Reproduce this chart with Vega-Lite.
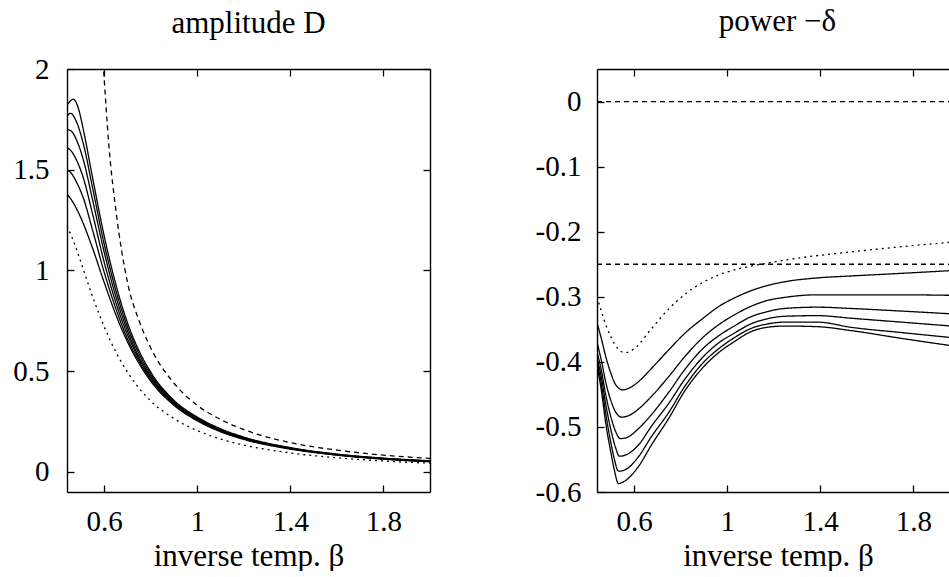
{
  "$schema": "https://vega.github.io/schema/vega-lite/v6.json",
  "padding": {"left": 0, "top": 6, "right": 0, "bottom": 0},
  "background": "white",
  "config": {
    "view": {"stroke": null},
    "font": "Liberation Serif",
    "axis": {"domainColor": "black", "tickColor": "black", "labelColor": "black", "titleColor": "black", "labelFont": "Liberation Serif", "titleFont": "Liberation Serif", "labelFontSize": 29, "titleFontSize": 31, "titleFontWeight": "normal", "grid": false, "tickSize": -7, "domainWidth": 1.4, "tickWidth": 1.3, "labelExpr": "'' + datum.value"},
    "title": {"font": "Liberation Serif", "fontSize": 31, "fontWeight": "normal", "color": "black"},
    "concat": {"spacing": 96}
  },
  "datasets": {
    "amp": [
      {"series": "c1", "style": "solid", "beta": 0.44, "value": 1.82},
      {"series": "c1", "style": "solid", "beta": 0.468, "value": 1.85},
      {"series": "c1", "style": "solid", "beta": 0.49, "value": 1.8},
      {"series": "c1", "style": "solid", "beta": 0.51, "value": 1.7},
      {"series": "c1", "style": "solid", "beta": 0.55, "value": 1.46},
      {"series": "c1", "style": "solid", "beta": 0.6, "value": 1.17},
      {"series": "c1", "style": "solid", "beta": 0.65, "value": 0.93},
      {"series": "c1", "style": "solid", "beta": 0.7, "value": 0.74},
      {"series": "c1", "style": "solid", "beta": 0.75, "value": 0.6},
      {"series": "c1", "style": "solid", "beta": 0.8, "value": 0.495},
      {"series": "c1", "style": "solid", "beta": 0.9, "value": 0.355},
      {"series": "c1", "style": "solid", "beta": 1.0, "value": 0.272},
      {"series": "c1", "style": "solid", "beta": 1.1, "value": 0.214},
      {"series": "c1", "style": "solid", "beta": 1.2, "value": 0.173},
      {"series": "c1", "style": "solid", "beta": 1.4, "value": 0.12},
      {"series": "c1", "style": "solid", "beta": 1.6, "value": 0.088},
      {"series": "c1", "style": "solid", "beta": 1.8, "value": 0.068},
      {"series": "c1", "style": "solid", "beta": 2.0, "value": 0.055},

      {"series": "c2", "style": "solid", "beta": 0.44, "value": 1.765},
      {"series": "c2", "style": "solid", "beta": 0.455, "value": 1.78},
      {"series": "c2", "style": "solid", "beta": 0.48, "value": 1.74},
      {"series": "c2", "style": "solid", "beta": 0.51, "value": 1.63},
      {"series": "c2", "style": "solid", "beta": 0.55, "value": 1.41},
      {"series": "c2", "style": "solid", "beta": 0.6, "value": 1.13},
      {"series": "c2", "style": "solid", "beta": 0.65, "value": 0.9},
      {"series": "c2", "style": "solid", "beta": 0.7, "value": 0.72},
      {"series": "c2", "style": "solid", "beta": 0.75, "value": 0.585},
      {"series": "c2", "style": "solid", "beta": 0.8, "value": 0.485},
      {"series": "c2", "style": "solid", "beta": 0.9, "value": 0.35},
      {"series": "c2", "style": "solid", "beta": 1.0, "value": 0.268},
      {"series": "c2", "style": "solid", "beta": 1.1, "value": 0.211},
      {"series": "c2", "style": "solid", "beta": 1.2, "value": 0.17},
      {"series": "c2", "style": "solid", "beta": 1.4, "value": 0.119},
      {"series": "c2", "style": "solid", "beta": 1.6, "value": 0.087},
      {"series": "c2", "style": "solid", "beta": 1.8, "value": 0.067},
      {"series": "c2", "style": "solid", "beta": 2.0, "value": 0.054},

      {"series": "c3", "style": "solid", "beta": 0.44, "value": 1.7},
      {"series": "c3", "style": "solid", "beta": 0.46, "value": 1.69},
      {"series": "c3", "style": "solid", "beta": 0.48, "value": 1.65},
      {"series": "c3", "style": "solid", "beta": 0.51, "value": 1.55},
      {"series": "c3", "style": "solid", "beta": 0.55, "value": 1.35},
      {"series": "c3", "style": "solid", "beta": 0.6, "value": 1.09},
      {"series": "c3", "style": "solid", "beta": 0.65, "value": 0.87},
      {"series": "c3", "style": "solid", "beta": 0.7, "value": 0.7},
      {"series": "c3", "style": "solid", "beta": 0.75, "value": 0.57},
      {"series": "c3", "style": "solid", "beta": 0.8, "value": 0.475},
      {"series": "c3", "style": "solid", "beta": 0.9, "value": 0.345},
      {"series": "c3", "style": "solid", "beta": 1.0, "value": 0.264},
      {"series": "c3", "style": "solid", "beta": 1.1, "value": 0.208},
      {"series": "c3", "style": "solid", "beta": 1.2, "value": 0.168},
      {"series": "c3", "style": "solid", "beta": 1.4, "value": 0.117},
      {"series": "c3", "style": "solid", "beta": 1.6, "value": 0.086},
      {"series": "c3", "style": "solid", "beta": 1.8, "value": 0.066},
      {"series": "c3", "style": "solid", "beta": 2.0, "value": 0.053},

      {"series": "c4", "style": "solid", "beta": 0.44, "value": 1.61},
      {"series": "c4", "style": "solid", "beta": 0.46, "value": 1.59},
      {"series": "c4", "style": "solid", "beta": 0.48, "value": 1.55},
      {"series": "c4", "style": "solid", "beta": 0.51, "value": 1.46},
      {"series": "c4", "style": "solid", "beta": 0.55, "value": 1.28},
      {"series": "c4", "style": "solid", "beta": 0.6, "value": 1.04},
      {"series": "c4", "style": "solid", "beta": 0.65, "value": 0.84},
      {"series": "c4", "style": "solid", "beta": 0.7, "value": 0.68},
      {"series": "c4", "style": "solid", "beta": 0.75, "value": 0.56},
      {"series": "c4", "style": "solid", "beta": 0.8, "value": 0.467},
      {"series": "c4", "style": "solid", "beta": 0.9, "value": 0.34},
      {"series": "c4", "style": "solid", "beta": 1.0, "value": 0.261},
      {"series": "c4", "style": "solid", "beta": 1.1, "value": 0.205},
      {"series": "c4", "style": "solid", "beta": 1.2, "value": 0.166},
      {"series": "c4", "style": "solid", "beta": 1.4, "value": 0.116},
      {"series": "c4", "style": "solid", "beta": 1.6, "value": 0.085},
      {"series": "c4", "style": "solid", "beta": 1.8, "value": 0.065},
      {"series": "c4", "style": "solid", "beta": 2.0, "value": 0.052},

      {"series": "c5", "style": "solid", "beta": 0.44, "value": 1.5},
      {"series": "c5", "style": "solid", "beta": 0.46, "value": 1.48},
      {"series": "c5", "style": "solid", "beta": 0.48, "value": 1.44},
      {"series": "c5", "style": "solid", "beta": 0.51, "value": 1.36},
      {"series": "c5", "style": "solid", "beta": 0.55, "value": 1.2},
      {"series": "c5", "style": "solid", "beta": 0.6, "value": 0.99},
      {"series": "c5", "style": "solid", "beta": 0.65, "value": 0.81},
      {"series": "c5", "style": "solid", "beta": 0.7, "value": 0.66},
      {"series": "c5", "style": "solid", "beta": 0.75, "value": 0.548},
      {"series": "c5", "style": "solid", "beta": 0.8, "value": 0.458},
      {"series": "c5", "style": "solid", "beta": 0.9, "value": 0.335},
      {"series": "c5", "style": "solid", "beta": 1.0, "value": 0.257},
      {"series": "c5", "style": "solid", "beta": 1.1, "value": 0.202},
      {"series": "c5", "style": "solid", "beta": 1.2, "value": 0.164},
      {"series": "c5", "style": "solid", "beta": 1.4, "value": 0.115},
      {"series": "c5", "style": "solid", "beta": 1.6, "value": 0.084},
      {"series": "c5", "style": "solid", "beta": 1.8, "value": 0.064},
      {"series": "c5", "style": "solid", "beta": 2.0, "value": 0.051},

      {"series": "c6", "style": "solid", "beta": 0.44, "value": 1.38},
      {"series": "c6", "style": "solid", "beta": 0.47, "value": 1.33},
      {"series": "c6", "style": "solid", "beta": 0.5, "value": 1.26},
      {"series": "c6", "style": "solid", "beta": 0.55, "value": 1.11},
      {"series": "c6", "style": "solid", "beta": 0.6, "value": 0.94},
      {"series": "c6", "style": "solid", "beta": 0.65, "value": 0.78},
      {"series": "c6", "style": "solid", "beta": 0.7, "value": 0.645},
      {"series": "c6", "style": "solid", "beta": 0.75, "value": 0.537},
      {"series": "c6", "style": "solid", "beta": 0.8, "value": 0.45},
      {"series": "c6", "style": "solid", "beta": 0.9, "value": 0.33},
      {"series": "c6", "style": "solid", "beta": 1.0, "value": 0.253},
      {"series": "c6", "style": "solid", "beta": 1.1, "value": 0.199},
      {"series": "c6", "style": "solid", "beta": 1.2, "value": 0.161},
      {"series": "c6", "style": "solid", "beta": 1.4, "value": 0.113},
      {"series": "c6", "style": "solid", "beta": 1.6, "value": 0.083},
      {"series": "c6", "style": "solid", "beta": 1.8, "value": 0.063},
      {"series": "c6", "style": "solid", "beta": 2.0, "value": 0.05},

      {"series": "dot", "style": "dotted", "beta": 0.44, "value": 1.22},
      {"series": "dot", "style": "dotted", "beta": 0.47, "value": 1.14},
      {"series": "dot", "style": "dotted", "beta": 0.5, "value": 1.04},
      {"series": "dot", "style": "dotted", "beta": 0.55, "value": 0.87},
      {"series": "dot", "style": "dotted", "beta": 0.6, "value": 0.72},
      {"series": "dot", "style": "dotted", "beta": 0.65, "value": 0.595},
      {"series": "dot", "style": "dotted", "beta": 0.7, "value": 0.495},
      {"series": "dot", "style": "dotted", "beta": 0.75, "value": 0.415},
      {"series": "dot", "style": "dotted", "beta": 0.8, "value": 0.352},
      {"series": "dot", "style": "dotted", "beta": 0.9, "value": 0.264},
      {"series": "dot", "style": "dotted", "beta": 1.0, "value": 0.205},
      {"series": "dot", "style": "dotted", "beta": 1.1, "value": 0.163},
      {"series": "dot", "style": "dotted", "beta": 1.2, "value": 0.133},
      {"series": "dot", "style": "dotted", "beta": 1.4, "value": 0.094},
      {"series": "dot", "style": "dotted", "beta": 1.6, "value": 0.07},
      {"series": "dot", "style": "dotted", "beta": 1.8, "value": 0.054},
      {"series": "dot", "style": "dotted", "beta": 2.0, "value": 0.043},

      {"series": "dash", "style": "dashed", "beta": 0.58, "value": 2.3},
      {"series": "dash", "style": "dashed", "beta": 0.597, "value": 2.0},
      {"series": "dash", "style": "dashed", "beta": 0.62, "value": 1.62},
      {"series": "dash", "style": "dashed", "beta": 0.65, "value": 1.3},
      {"series": "dash", "style": "dashed", "beta": 0.7, "value": 0.94},
      {"series": "dash", "style": "dashed", "beta": 0.75, "value": 0.75},
      {"series": "dash", "style": "dashed", "beta": 0.8, "value": 0.615},
      {"series": "dash", "style": "dashed", "beta": 0.9, "value": 0.44},
      {"series": "dash", "style": "dashed", "beta": 1.0, "value": 0.33},
      {"series": "dash", "style": "dashed", "beta": 1.1, "value": 0.26},
      {"series": "dash", "style": "dashed", "beta": 1.2, "value": 0.21},
      {"series": "dash", "style": "dashed", "beta": 1.4, "value": 0.145},
      {"series": "dash", "style": "dashed", "beta": 1.6, "value": 0.108},
      {"series": "dash", "style": "dashed", "beta": 1.8, "value": 0.083},
      {"series": "dash", "style": "dashed", "beta": 2.0, "value": 0.067}
    ],
    "pow": [
      {"series": "h0", "style": "dashed", "beta": 0.44, "value": 0},
      {"series": "h0", "style": "dashed", "beta": 2.0, "value": 0},
      {"series": "h25", "style": "dashed", "beta": 0.44, "value": -0.25},
      {"series": "h25", "style": "dashed", "beta": 2.0, "value": -0.25},

      {"series": "dot", "style": "dotted", "beta": 0.44, "value": -0.3},
      {"series": "dot", "style": "dotted", "beta": 0.457, "value": -0.32},
      {"series": "dot", "style": "dotted", "beta": 0.48, "value": -0.345},
      {"series": "dot", "style": "dotted", "beta": 0.5, "value": -0.362},
      {"series": "dot", "style": "dotted", "beta": 0.53, "value": -0.38},
      {"series": "dot", "style": "dotted", "beta": 0.56, "value": -0.386},
      {"series": "dot", "style": "dotted", "beta": 0.6, "value": -0.38},
      {"series": "dot", "style": "dotted", "beta": 0.672, "value": -0.35},
      {"series": "dot", "style": "dotted", "beta": 0.75, "value": -0.318},
      {"series": "dot", "style": "dotted", "beta": 0.815, "value": -0.297},
      {"series": "dot", "style": "dotted", "beta": 0.9, "value": -0.277},
      {"series": "dot", "style": "dotted", "beta": 0.959, "value": -0.267},
      {"series": "dot", "style": "dotted", "beta": 1.05, "value": -0.257},
      {"series": "dot", "style": "dotted", "beta": 1.145, "value": -0.25},
      {"series": "dot", "style": "dotted", "beta": 1.317, "value": -0.24},
      {"series": "dot", "style": "dotted", "beta": 1.533, "value": -0.231},
      {"series": "dot", "style": "dotted", "beta": 1.75, "value": -0.223},
      {"series": "dot", "style": "dotted", "beta": 2.0, "value": -0.215},

      {"series": "c1", "style": "solid", "beta": 0.44, "value": -0.34},
      {"series": "c1", "style": "solid", "beta": 0.457, "value": -0.362},
      {"series": "c1", "style": "solid", "beta": 0.48, "value": -0.395},
      {"series": "c1", "style": "solid", "beta": 0.5, "value": -0.418},
      {"series": "c1", "style": "solid", "beta": 0.52, "value": -0.435},
      {"series": "c1", "style": "solid", "beta": 0.55, "value": -0.443},
      {"series": "c1", "style": "solid", "beta": 0.58, "value": -0.44},
      {"series": "c1", "style": "solid", "beta": 0.62, "value": -0.43},
      {"series": "c1", "style": "solid", "beta": 0.672, "value": -0.411},
      {"series": "c1", "style": "solid", "beta": 0.75, "value": -0.381},
      {"series": "c1", "style": "solid", "beta": 0.815, "value": -0.357},
      {"series": "c1", "style": "solid", "beta": 0.9, "value": -0.332},
      {"series": "c1", "style": "solid", "beta": 0.959, "value": -0.316},
      {"series": "c1", "style": "solid", "beta": 1.03, "value": -0.302},
      {"series": "c1", "style": "solid", "beta": 1.1, "value": -0.291},
      {"series": "c1", "style": "solid", "beta": 1.17, "value": -0.283},
      {"series": "c1", "style": "solid", "beta": 1.246, "value": -0.277},
      {"series": "c1", "style": "solid", "beta": 1.389, "value": -0.271},
      {"series": "c1", "style": "solid", "beta": 1.533, "value": -0.268},
      {"series": "c1", "style": "solid", "beta": 1.75, "value": -0.264},
      {"series": "c1", "style": "solid", "beta": 2.0, "value": -0.259},

      {"series": "c2", "style": "solid", "beta": 0.44, "value": -0.37},
      {"series": "c2", "style": "solid", "beta": 0.457, "value": -0.395},
      {"series": "c2", "style": "solid", "beta": 0.48, "value": -0.435},
      {"series": "c2", "style": "solid", "beta": 0.5, "value": -0.46},
      {"series": "c2", "style": "solid", "beta": 0.52, "value": -0.477},
      {"series": "c2", "style": "solid", "beta": 0.546, "value": -0.485},
      {"series": "c2", "style": "solid", "beta": 0.58, "value": -0.482},
      {"series": "c2", "style": "solid", "beta": 0.62, "value": -0.472},
      {"series": "c2", "style": "solid", "beta": 0.672, "value": -0.454},
      {"series": "c2", "style": "solid", "beta": 0.75, "value": -0.422},
      {"series": "c2", "style": "solid", "beta": 0.815, "value": -0.393},
      {"series": "c2", "style": "solid", "beta": 0.9, "value": -0.361},
      {"series": "c2", "style": "solid", "beta": 0.959, "value": -0.344},
      {"series": "c2", "style": "solid", "beta": 1.03, "value": -0.328},
      {"series": "c2", "style": "solid", "beta": 1.1, "value": -0.315},
      {"series": "c2", "style": "solid", "beta": 1.17, "value": -0.306},
      {"series": "c2", "style": "solid", "beta": 1.246, "value": -0.301},
      {"series": "c2", "style": "solid", "beta": 1.389, "value": -0.297},
      {"series": "c2", "style": "solid", "beta": 1.533, "value": -0.297},
      {"series": "c2", "style": "solid", "beta": 1.75, "value": -0.297},
      {"series": "c2", "style": "solid", "beta": 2.0, "value": -0.298},

      {"series": "c3", "style": "solid", "beta": 0.44, "value": -0.385},
      {"series": "c3", "style": "solid", "beta": 0.457, "value": -0.41},
      {"series": "c3", "style": "solid", "beta": 0.48, "value": -0.455},
      {"series": "c3", "style": "solid", "beta": 0.5, "value": -0.485},
      {"series": "c3", "style": "solid", "beta": 0.52, "value": -0.507},
      {"series": "c3", "style": "solid", "beta": 0.54, "value": -0.518},
      {"series": "c3", "style": "solid", "beta": 0.57, "value": -0.516},
      {"series": "c3", "style": "solid", "beta": 0.62, "value": -0.502},
      {"series": "c3", "style": "solid", "beta": 0.672, "value": -0.482},
      {"series": "c3", "style": "solid", "beta": 0.75, "value": -0.446},
      {"series": "c3", "style": "solid", "beta": 0.815, "value": -0.413},
      {"series": "c3", "style": "solid", "beta": 0.9, "value": -0.378},
      {"series": "c3", "style": "solid", "beta": 0.959, "value": -0.361},
      {"series": "c3", "style": "solid", "beta": 1.03, "value": -0.345},
      {"series": "c3", "style": "solid", "beta": 1.1, "value": -0.331},
      {"series": "c3", "style": "solid", "beta": 1.17, "value": -0.323},
      {"series": "c3", "style": "solid", "beta": 1.246, "value": -0.318},
      {"series": "c3", "style": "solid", "beta": 1.389, "value": -0.316},
      {"series": "c3", "style": "solid", "beta": 1.533, "value": -0.318},
      {"series": "c3", "style": "solid", "beta": 1.75, "value": -0.322},
      {"series": "c3", "style": "solid", "beta": 2.0, "value": -0.327},

      {"series": "c4", "style": "solid", "beta": 0.44, "value": -0.395},
      {"series": "c4", "style": "solid", "beta": 0.457, "value": -0.42},
      {"series": "c4", "style": "solid", "beta": 0.48, "value": -0.47},
      {"series": "c4", "style": "solid", "beta": 0.5, "value": -0.505},
      {"series": "c4", "style": "solid", "beta": 0.52, "value": -0.532},
      {"series": "c4", "style": "solid", "beta": 0.536, "value": -0.545},
      {"series": "c4", "style": "solid", "beta": 0.57, "value": -0.542},
      {"series": "c4", "style": "solid", "beta": 0.62, "value": -0.527},
      {"series": "c4", "style": "solid", "beta": 0.672, "value": -0.5},
      {"series": "c4", "style": "solid", "beta": 0.75, "value": -0.463},
      {"series": "c4", "style": "solid", "beta": 0.815, "value": -0.428},
      {"series": "c4", "style": "solid", "beta": 0.9, "value": -0.391},
      {"series": "c4", "style": "solid", "beta": 0.959, "value": -0.372},
      {"series": "c4", "style": "solid", "beta": 1.03, "value": -0.356},
      {"series": "c4", "style": "solid", "beta": 1.1, "value": -0.342},
      {"series": "c4", "style": "solid", "beta": 1.17, "value": -0.334},
      {"series": "c4", "style": "solid", "beta": 1.246, "value": -0.33},
      {"series": "c4", "style": "solid", "beta": 1.389, "value": -0.329},
      {"series": "c4", "style": "solid", "beta": 1.533, "value": -0.333},
      {"series": "c4", "style": "solid", "beta": 1.75, "value": -0.339},
      {"series": "c4", "style": "solid", "beta": 2.0, "value": -0.346},

      {"series": "c5", "style": "solid", "beta": 0.44, "value": -0.4},
      {"series": "c5", "style": "solid", "beta": 0.457, "value": -0.43},
      {"series": "c5", "style": "solid", "beta": 0.48, "value": -0.485},
      {"series": "c5", "style": "solid", "beta": 0.5, "value": -0.525},
      {"series": "c5", "style": "solid", "beta": 0.515, "value": -0.55},
      {"series": "c5", "style": "solid", "beta": 0.532, "value": -0.568},
      {"series": "c5", "style": "solid", "beta": 0.56, "value": -0.566},
      {"series": "c5", "style": "solid", "beta": 0.62, "value": -0.545},
      {"series": "c5", "style": "solid", "beta": 0.672, "value": -0.516},
      {"series": "c5", "style": "solid", "beta": 0.75, "value": -0.477},
      {"series": "c5", "style": "solid", "beta": 0.815, "value": -0.439},
      {"series": "c5", "style": "solid", "beta": 0.9, "value": -0.4},
      {"series": "c5", "style": "solid", "beta": 0.959, "value": -0.381},
      {"series": "c5", "style": "solid", "beta": 1.03, "value": -0.363},
      {"series": "c5", "style": "solid", "beta": 1.1, "value": -0.349},
      {"series": "c5", "style": "solid", "beta": 1.17, "value": -0.342},
      {"series": "c5", "style": "solid", "beta": 1.246, "value": -0.339},
      {"series": "c5", "style": "solid", "beta": 1.389, "value": -0.339},
      {"series": "c5", "style": "solid", "beta": 1.533, "value": -0.347},
      {"series": "c5", "style": "solid", "beta": 1.75, "value": -0.355},
      {"series": "c5", "style": "solid", "beta": 2.0, "value": -0.364},

      {"series": "c6", "style": "solid", "beta": 0.44, "value": -0.405},
      {"series": "c6", "style": "solid", "beta": 0.457, "value": -0.44},
      {"series": "c6", "style": "solid", "beta": 0.48, "value": -0.5},
      {"series": "c6", "style": "solid", "beta": 0.5, "value": -0.54},
      {"series": "c6", "style": "solid", "beta": 0.515, "value": -0.567},
      {"series": "c6", "style": "solid", "beta": 0.532, "value": -0.587},
      {"series": "c6", "style": "solid", "beta": 0.56, "value": -0.583},
      {"series": "c6", "style": "solid", "beta": 0.62, "value": -0.56},
      {"series": "c6", "style": "solid", "beta": 0.672, "value": -0.529},
      {"series": "c6", "style": "solid", "beta": 0.75, "value": -0.486},
      {"series": "c6", "style": "solid", "beta": 0.815, "value": -0.446},
      {"series": "c6", "style": "solid", "beta": 0.9, "value": -0.407},
      {"series": "c6", "style": "solid", "beta": 0.959, "value": -0.387},
      {"series": "c6", "style": "solid", "beta": 1.03, "value": -0.369},
      {"series": "c6", "style": "solid", "beta": 1.1, "value": -0.354},
      {"series": "c6", "style": "solid", "beta": 1.17, "value": -0.347},
      {"series": "c6", "style": "solid", "beta": 1.246, "value": -0.345},
      {"series": "c6", "style": "solid", "beta": 1.389, "value": -0.346},
      {"series": "c6", "style": "solid", "beta": 1.533, "value": -0.352},
      {"series": "c6", "style": "solid", "beta": 1.75, "value": -0.364},
      {"series": "c6", "style": "solid", "beta": 2.0, "value": -0.377}
    ]
  },
  "hconcat": [
    {
      "width": 363,
      "height": 423,
      "title": {"text": "amplitude D", "offset": 15},
      "data": {"name": "amp"},
      "layer": [
        {
          "mark": {"type": "line", "clip": true, "interpolate": "monotone", "color": "black", "strokeWidth": 1.3},
          "encoding": {
            "x": {"field": "beta", "type": "quantitative", "scale": {"domain": [0.44, 2.0], "nice": false, "zero": false}, "axis": {"orient": "bottom", "values": [0.6, 1, 1.4, 1.8], "title": "inverse temp. β", "labelPadding": 22, "titlePadding": 5}},
            "y": {"field": "value", "type": "quantitative", "scale": {"domain": [-0.1, 2], "nice": false, "zero": false}, "axis": {"orient": "left", "values": [0, 0.5, 1, 1.5, 2], "title": null, "labelPadding": 25, "minExtent": 67, "maxExtent": 67}},
            "detail": {"field": "series"},
            "strokeDash": {"field": "style", "type": "nominal", "scale": {"domain": ["solid", "dashed", "dotted"], "range": [[1, 0], [5, 4], [2, 4]]}, "legend": null}
          }
        },
        {
          "mark": {"type": "line", "clip": true, "opacity": 0},
          "encoding": {
            "x": {"field": "beta", "type": "quantitative", "scale": {"domain": [0.44, 2.0], "nice": false, "zero": false}, "axis": {"orient": "top", "values": [0.6, 1, 1.4, 1.8], "title": null, "labels": false, "minExtent": 0, "maxExtent": 0}},
            "y": {"field": "value", "type": "quantitative", "scale": {"domain": [-0.1, 2], "nice": false, "zero": false}, "axis": {"orient": "right", "values": [0, 0.5, 1, 1.5, 2], "title": null, "labels": false, "minExtent": 0, "maxExtent": 0}},
            "detail": {"field": "series"}
          }
        }
      ],
      "resolve": {"axis": {"x": "independent", "y": "independent"}}
    },
    {
      "width": 353,
      "height": 423,
      "title": {"text": "power −δ", "offset": 30, "dx": 4},
      "data": {"name": "pow"},
      "layer": [
        {
          "mark": {"type": "line", "clip": true, "interpolate": "monotone", "color": "black", "strokeWidth": 1.3},
          "encoding": {
            "x": {"field": "beta", "type": "quantitative", "scale": {"domain": [0.44, 1.958], "nice": false, "zero": false}, "axis": {"orient": "bottom", "values": [0.6, 1, 1.4, 1.8], "title": "inverse temp. β", "labelPadding": 22, "titlePadding": 5, "titleX": 181}},
            "y": {"field": "value", "type": "quantitative", "scale": {"domain": [-0.6, 0.05], "nice": false, "zero": false}, "axis": {"orient": "left", "values": [0, -0.1, -0.2, -0.3, -0.4, -0.5, -0.6], "title": null, "labelPadding": 23, "minExtent": 70, "maxExtent": 70}},
            "detail": {"field": "series"},
            "strokeDash": {"field": "style", "type": "nominal", "scale": {"domain": ["solid", "dashed", "dotted"], "range": [[1, 0], [5, 4], [2, 4]]}, "legend": null}
          }
        },
        {
          "mark": {"type": "line", "clip": true, "opacity": 0},
          "encoding": {
            "x": {"field": "beta", "type": "quantitative", "scale": {"domain": [0.44, 1.958], "nice": false, "zero": false}, "axis": {"orient": "top", "values": [0.6, 1, 1.4, 1.8], "title": null, "labels": false, "minExtent": 0, "maxExtent": 0}},
            "y": {"field": "value", "type": "quantitative", "scale": {"domain": [-0.6, 0.05], "nice": false, "zero": false}},
            "detail": {"field": "series"}
          }
        }
      ],
      "resolve": {"axis": {"x": "independent"}}
    }
  ]
}
